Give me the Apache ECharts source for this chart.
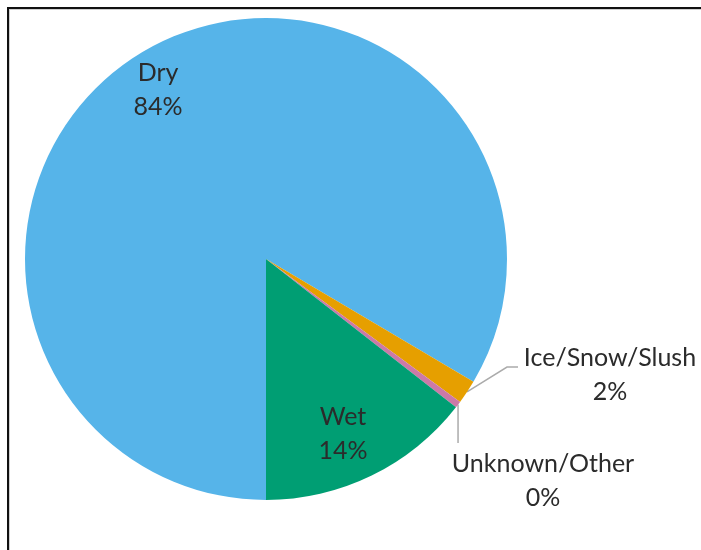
<!DOCTYPE html>
<html>
<head>
<meta charset="utf-8">
<script src="https://cdn.jsdelivr.net/npm/echarts@6/dist/echarts.min.js"></script>
<style>
  html, body { margin: 0; padding: 0; background: #fff; }
  #wrap { position: relative; width: 701px; height: 550px; overflow: hidden; }
  #chart { position: absolute; left: 0; top: 0; width: 701px; height: 550px; }
  #frame {
    position: absolute; left: 7px; top: 7px; width: 700px; height: 560px;
    border-top: 2px solid #111; border-left: 2px solid #111;
    box-shadow: inset 1px 1px 0 #cfcfcf; pointer-events: none;
  }
</style>
</head>
<body>
<div id="wrap">
  <div id="chart"></div>
  <div id="frame"></div>
</div>
<script>
// Road surface condition shares (percent)
const categories = ['Dry', 'Ice/Snow/Slush', 'Unknown/Other', 'Wet'];
const shares = [83.5, 1.6, 0.45, 14.45];
const colors = ['#56B4E9', '#E69F00', '#CC79A7', '#009E73'];

const CX = 266, CY = 259, R = 241;
const FONT = 'Lato, "Open Sans", sans-serif';

// label anchor points (centre of the two-line label block)
const labelPos = [
  [158, 90],    // Dry
  [610, 375],   // Ice/Snow/Slush
  [543, 481],   // Unknown/Other
  [343, 434]    // Wet
];

const total = shares.reduce((a, b) => a + b, 0);

// point on the rim at the middle of slice i (screen angles, clockwise from east, start at 6 o'clock)
function rimMid(i) {
  let cum = 0;
  for (let k = 0; k < i; k++) cum += shares[k];
  const deg = 90 + 360 * (cum + shares[i] / 2) / total;
  const a = deg * Math.PI / 180;
  return [CX + R * Math.cos(a), CY + R * Math.sin(a)];
}

const chart = echarts.init(document.getElementById('chart'), null, { renderer: 'canvas' });

const data = categories.map((name, i) => ({
  name: name,
  value: shares[i],
  itemStyle: { color: colors[i] },
  labelLine: { show: i === 1 || i === 2 }
}));

chart.setOption({
  animation: false,
  backgroundColor: '#ffffff',
  series: [{
    type: 'pie',
    center: [CX, CY],
    radius: [0, R],
    startAngle: -90,
    clockwise: true,
    avoidLabelOverlap: false,
    data: data,
    itemStyle: { borderWidth: 0 },
    label: {
      show: true,
      position: 'outside',
      fontFamily: FONT,
      fontSize: 25,
      lineHeight: 34,
      color: '#2b2b2b',
      align: 'center',
      formatter: p => p.name + '\n' + Math.round(p.value / total * 100) + '%'
    },
    labelLine: {
      show: true,
      lineStyle: { color: '#ababab', width: 1.5 }
    },
    emphasis: { disabled: true },
    labelLayout: function (params) {
      const i = params.dataIndex;
      const pos = labelPos[i];
      const out = { x: pos[0], y: pos[1], align: 'center', verticalAlign: 'middle' };
      const start = rimMid(i);
      if (i === 1) {
        out.labelLinePoints = [start, [pos[0] - 103, pos[1] - 8], [pos[0] - 92, pos[1] - 8]];
      } else if (i === 2) {
        out.labelLinePoints = [start, [start[0], pos[1] - 38]];
      }
      return out;
    }
  }]
});
</script>
</body>
</html>
